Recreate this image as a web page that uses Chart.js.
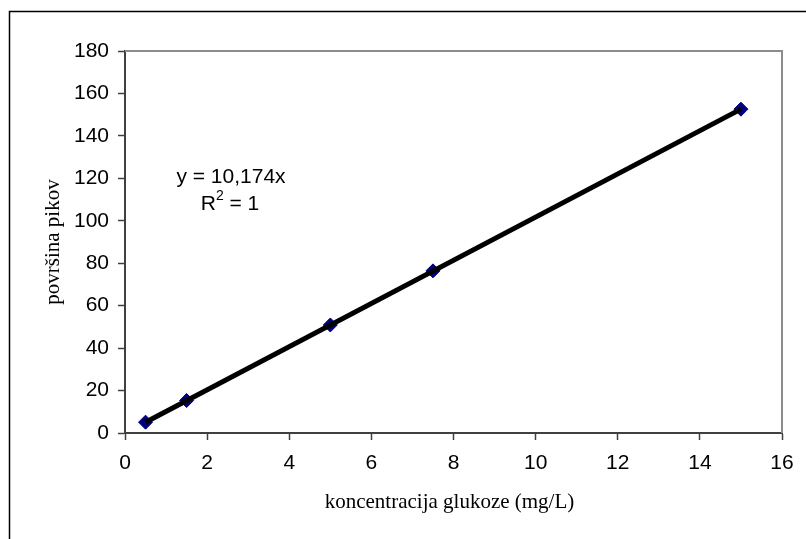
<!DOCTYPE html>
<html>
<head>
<meta charset="utf-8">
<script src="https://cdn.jsdelivr.net/npm/chart.js@4.4.0/dist/chart.umd.min.js"></script>
<style>
  html, body { margin: 0; padding: 0; background: #fff; }
  #wrap { width: 806px; height: 539px; position: relative; }
</style>
</head>
<body>
<div id="wrap"><canvas id="c" width="806" height="539"></canvas></div>
<script>
// measured points: glucose concentration (mg/L) vs peak area
const konc = [0.5, 1.5, 5, 7.5, 15];
const povrsina = [5.1, 15.3, 50.9, 76.4, 152.6];

// trendline y = 10,174x, drawn over the data range
const trendX = [0.5, 15];
const trendY = [5.09, 152.61];

const xTicks = [0, 2, 4, 6, 8, 10, 12, 14, 16];
const yTicks = [0, 20, 40, 60, 80, 100, 120, 140, 160, 180];

const xTitle = 'koncentracija glukoze (mg/L)';
const yTitle = 'površina pikov';
const eqLine = 'y = 10,174x';

const SANS = 'Arial, "Liberation Sans", sans-serif';
const SERIF = '"Liberation Serif", "Times New Roman", serif';
const tickFont = { family: SANS, size: 21 };

// frame, plot border, axis titles and the equation label
const decor = {
  id: 'decor',
  beforeDraw(chart) {
    const c = chart.ctx;
    c.save();
    c.fillStyle = '#fff';
    c.fillRect(0, 0, chart.width, chart.height);
    c.strokeStyle = '#000';
    c.lineWidth = 1.5;
    c.strokeRect(9.5, 11.5, 900, 900);
    c.restore();
  },
  afterDraw(chart) {
    const c = chart.ctx;
    const a = chart.chartArea;
    c.save();
    // top + right plot border
    c.strokeStyle = '#8c8c8c';
    c.lineWidth = 2;
    c.beginPath();
    c.moveTo(a.left, a.top);
    c.lineTo(a.right, a.top);
    c.lineTo(a.right, a.bottom);
    c.stroke();

    c.fillStyle = '#000';
    c.font = '21px ' + SERIF;
    c.textAlign = 'center';
    c.textBaseline = 'middle';
    c.fillText(xTitle, (a.left + a.right) / 2 - 4, 502);
    c.save();
    c.translate(53, (a.top + a.bottom) / 2);
    c.rotate(-Math.PI / 2);
    c.fillText(yTitle, 0, 0);
    c.restore();

    // equation
    c.font = '21px ' + SANS;
    c.fillText(eqLine, 231, 177);
    c.textAlign = 'left';
    const r = 'R', rest = ' = 1';
    const wR = c.measureText(r).width;
    const wRest = c.measureText(rest).width;
    c.font = '14px ' + SANS;
    const w2 = c.measureText('2').width;
    let x = 230 - (wR + w2 + wRest) / 2;
    c.font = '21px ' + SANS;
    c.fillText(r, x, 204);
    c.font = '14px ' + SANS;
    c.fillText('2', x + wR, 196);
    c.font = '21px ' + SANS;
    c.fillText(rest, x + wR + w2, 204);
    c.restore();
  }
};

new Chart(document.getElementById('c'), {
  type: 'scatter',
  data: {
    datasets: [
      {
        label: 'trend',
        type: 'line',
        data: trendX.map((x, i) => ({ x, y: trendY[i] })),
        borderColor: '#000',
        borderWidth: 5,
        pointRadius: 0,
        fill: false,
        order: 0
      },
      {
        label: 'meritve',
        data: konc.map((x, i) => ({ x, y: povrsina[i] })),
        pointStyle: 'rectRot',
        pointRadius: 7,
        pointBackgroundColor: '#000080',
        pointBorderColor: '#000080',
        pointBorderWidth: 1,
        order: 1
      }
    ]
  },
  options: {
    responsive: false,
    animation: false,
    layout: { padding: { left: 0, top: 51, right: 24, bottom: 0 } },
    plugins: { legend: { display: false }, tooltip: { enabled: false } },
    scales: {
      x: {
        type: 'linear',
        min: 0, max: 16,
        afterFit: s => { s.height = 106; },
        afterBuildTicks: s => { s.ticks = xTicks.map(v => ({ value: v })); },
        grid: { drawOnChartArea: false, tickLength: 7, tickColor: '#404040', tickWidth: 1.5 },
        border: { color: '#404040', width: 2 },
        ticks: { font: tickFont, color: '#000', padding: 11, maxRotation: 0 }
      },
      y: {
        type: 'linear',
        min: 0, max: 180,
        afterFit: s => { s.width = 125; },
        afterBuildTicks: s => { s.ticks = yTicks.map(v => ({ value: v })); },
        grid: { drawOnChartArea: false, tickLength: 7, tickColor: '#404040', tickWidth: 1.5 },
        border: { color: '#404040', width: 2 },
        ticks: { font: tickFont, color: '#000', padding: 9 }
      }
    }
  },
  plugins: [decor]
});
</script>
</body>
</html>
